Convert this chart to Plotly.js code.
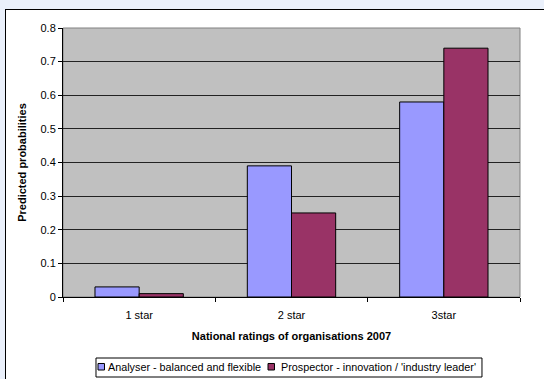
<!DOCTYPE html>
<html>
<head>
<meta charset="utf-8">
<script src="https://cdn.plot.ly/plotly-3.0.1.min.js"></script>
<style>
  html, body { margin: 0; padding: 0; width: 544px; height: 379px; overflow: hidden; background: #EAF0FB; }
  #frame { position: absolute; left: 5px; top: 9px; width: 560px; height: 400px; background: #FFFFFF; border: 1px solid #000; box-sizing: border-box; }
  #chart { position: absolute; left: 0; top: 0; width: 544px; height: 379px; }
</style>
</head>
<body>
<div id="frame"></div>
<div id="chart"></div>
<script>
const categories = ["1 star", "2 star", "3star"];
const analyser = [0.03, 0.39, 0.58];
const prospector = [0.01, 0.25, 0.74];
const seriesNames = ["Analyser - balanced and flexible", "Prospector - innovation / 'industry leader'"];
const yTicks = [0, 0.1, 0.2, 0.3, 0.4, 0.5, 0.6, 0.7, 0.8];

const font = "Liberation Sans, Arial, sans-serif";
const colors = ["#9999FF", "#993366"];

const data = [
  { type: "bar", x: categories, y: analyser, name: seriesNames[0],
    marker: { color: colors[0], line: { color: "#000000", width: 1 } } },
  { type: "bar", x: categories, y: prospector, name: seriesNames[1],
    marker: { color: colors[1], line: { color: "#000000", width: 1 } } }
];

// Custom compact legend (Excel style), positioned in paper coordinates below the plot
const legendBox = { x0: 0.0722, x1: 0.9168, y0: -0.2974, y1: -0.2268 };
const legendSq = [ { x0: 0.0766, x1: 0.0908 }, { x0: 0.4486, x1: 0.4628 } ];
const legendSqY = { y0: -0.2714, y1: -0.2472 };
const legendTextX = [0.0950, 0.4735];
const legendTextY = -0.2602;

const shapes = [
  { type: "rect", xref: "paper", yref: "paper", x0: 0, x1: 1, y0: 0, y1: 1,
    line: { color: "#808080", width: 1 }, layer: "below" },
  { type: "rect", xref: "paper", yref: "paper", ...legendBox,
    line: { color: "#000000", width: 1 }, fillcolor: "#FFFFFF" }
];
const annotations = [];
seriesNames.forEach((name, i) => {
  shapes.push({ type: "rect", xref: "paper", yref: "paper",
    x0: legendSq[i].x0, x1: legendSq[i].x1, y0: legendSqY.y0, y1: legendSqY.y1,
    line: { color: "#000000", width: 1 }, fillcolor: colors[i] });
  annotations.push({ xref: "paper", yref: "paper", x: legendTextX[i], y: legendTextY,
    xanchor: "left", yanchor: "middle", showarrow: false, text: name,
    font: { family: font, size: 10.8, color: "#000" } });
});

const layout = {
  width: 544, height: 379,
  margin: { l: 63, r: 24, t: 28, b: 82, autoexpand: false },
  paper_bgcolor: "rgba(0,0,0,0)",
  plot_bgcolor: "#C0C0C0",
  font: { family: font, size: 11, color: "#000" },
  barmode: "group",
  bargap: 0.42,
  bargroupgap: 0,
  showlegend: false,
  xaxis: {
    type: "category",
    tickson: "boundaries",
    ticks: "outside", ticklen: 4, tickcolor: "#000",
    ticklabelstandoff: 8,
    showline: true, linecolor: "#000", linewidth: 1,
    showgrid: false,
    tickfont: { family: font, size: 11 },
    title: { text: "<b>National ratings of organisations 2007</b>", font: { family: font, size: 11 }, standoff: 12 }
  },
  yaxis: {
    range: [0, 0.8],
    tickvals: yTicks,
    ticktext: yTicks.map(v => String(v)),
    ticks: "outside", ticklen: 4, tickcolor: "#000",
    showline: true, linecolor: "#000", linewidth: 1,
    showgrid: true, gridcolor: "#222", gridwidth: 1,
    zeroline: false,
    tickfont: { family: font, size: 11 },
    title: { text: "<b>Predicted probabilities</b>", font: { family: font, size: 11 }, standoff: 11 }
  },
  shapes: shapes,
  annotations: annotations
};

Plotly.newPlot("chart", data, layout, { displayModeBar: false, staticPlot: true });
</script>
</body>
</html>
